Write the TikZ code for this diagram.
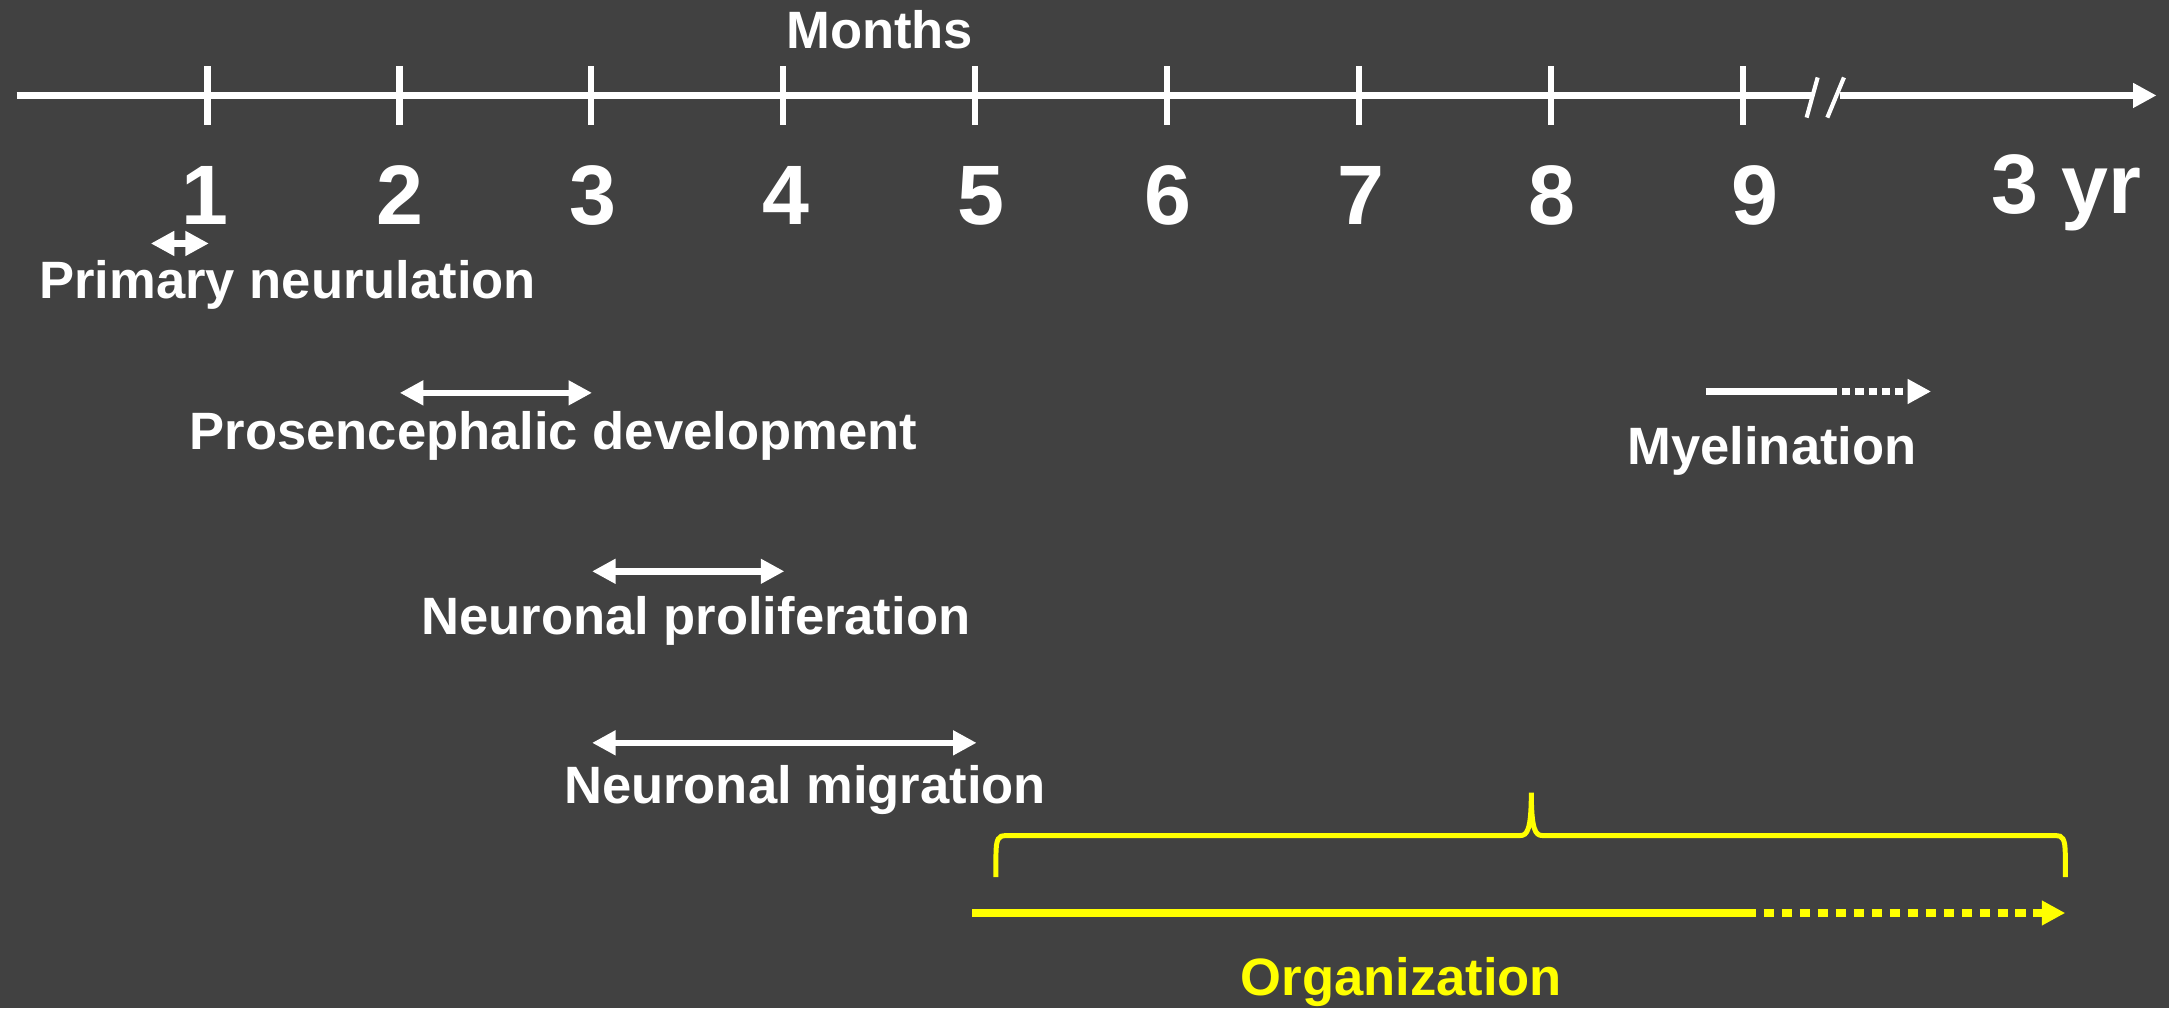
\documentclass[tikz,border=0pt]{standalone}
\usepackage{fontspec}
\setmainfont{Liberation Sans}
\usetikzlibrary{arrows.meta}
\definecolor{bgdark}{HTML}{414141}
\definecolor{orgyellow}{HTML}{FFFF00}

\begin{document}
\begin{tikzpicture}[x=1pt,y=-1pt,
  lbl/.style={text=white,font=\fontsize{38}{40}\selectfont\bfseries,inner sep=0pt,anchor=base},
  num/.style={text=white,font=\fontsize{61}{64}\selectfont\bfseries,inner sep=0pt,anchor=base},
  axisline/.style={white,line width=5.5pt},
  tick/.style={white,line width=4.5pt},
  span/.style={white,line width=4.8pt,{Triangle[length=17pt,width=17pt]}-{Triangle[length=17pt,width=17pt]}},
  solidpart/.style={line width=5.5pt},
  dotpart/.style={line width=5.5pt,dash pattern=on 6pt off 3.6pt,-{Triangle[length=17pt,width=17pt]}}
]
% background and page size
\fill[bgdark] (0,0) rectangle (1568,729);
\useasboundingbox (0,0) rectangle (1568,729);

% time axis with a break before the last segment
\coordinate (axL) at (12,69);
\coordinate (axB1) at (1310,69);
\coordinate (axB2) at (1330,69);
\coordinate (axR) at (1559,69);
\draw[axisline] (axL) -- (axB1);
\draw[axisline,-{Triangle[length=17pt,width=17pt]}] (axB2) -- (axR);
\draw[white,line width=3pt] (1306,85) -- (1314,56);
\draw[white,line width=3pt] (1321,85) -- (1333,56);

\foreach \k in {1,...,9}{
  \coordinate (t\k) at ({150+138.75*(\k-1)},69);
  \draw[tick] (t\k) ++(0,-21) -- ++(0,42);
}

\node[lbl] (months) at (636,35) {Months};

% month numbers
\node[num] (n1) at (148,162) {1};
\node[num] (n2) at (289,162) {2};
\node[num] (n3) at (429,162) {3};
\node[num] (n4) at (568,162) {4};
\node[num] (n5) at (709,162) {5};
\node[num] (n6) at (844,162) {6};
\node[num] (n7) at (984,162) {7};
\node[num] (n8) at (1122,162) {8};
\node[num] (n9) at (1269,162) {9};
\node[num] (n3yr) at (1494,154) {3 yr};

% developmental stages
\coordinate (pnA) at (109,176);
\coordinate (pnB) at (151,176);
\draw[span] (pnA) -- (pnB);
\node[lbl] (pn) at (208,216) {Primary neurulation};

\coordinate (pdA) at (289,284);
\coordinate (pdB) at (428,284);
\draw[span] (pdA) -- (pdB);
\node[lbl] (pd) at (400,325) {Prosencephalic development};

\coordinate (npA) at (428,413);
\coordinate (npB) at (567,413);
\draw[span] (npA) -- (npB);
\node[lbl] (np) at (503,459) {Neuronal proliferation};

\coordinate (nmA) at (428,537);
\coordinate (nmB) at (706,537);
\draw[span] (nmA) -- (nmB);
\node[lbl] (nm) at (582,581) {Neuronal migration};

% myelination: solid then continuing dotted
\coordinate (myA) at (1233,283);
\coordinate (myB) at (1322,283);
\coordinate (myC) at (1396,283);
\draw[white,solidpart] (myA) -- (myB);
\draw[white,dotpart] (myB) -- (myC);
\node[lbl] (my) at (1281,336) {Myelination};

% organization: brace over the span and arrow below
\draw[orgyellow,line width=3.6pt]
  (720,634) -- (720,618) .. controls (720,606) and (722,604) .. (727,604)
  -- (1099,604) .. controls (1104,604) and (1107,600) .. (1107,573)
  .. controls (1107,600) and (1110,604) .. (1115,604)
  -- (1486,604) .. controls (1491,604) and (1493,606) .. (1493,618) -- (1493,634);

\coordinate (orA) at (703,660);
\coordinate (orB) at (1262,660);
\coordinate (orC) at (1493,660);
\draw[orgyellow,solidpart] (orA) -- (orB);
\draw[orgyellow,line width=5.5pt,dash pattern=on 7.5pt off 5.5pt,-{Triangle[length=17pt,width=17pt]}] (orB) -- (orC);
\node[lbl,text=orgyellow] (org) at (1013,720) {Organization};
\end{tikzpicture}
\end{document}
